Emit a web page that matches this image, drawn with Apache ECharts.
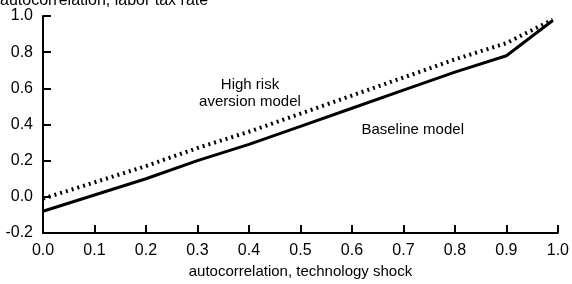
<!DOCTYPE html>
<html>
<head>
<meta charset="utf-8">
<script src="https://cdn.jsdelivr.net/npm/echarts@6/dist/echarts.min.js"></script>
<style>
  html, body { margin: 0; padding: 0; background: #fff; }
  #chart { width: 572px; height: 284px; }
</style>
</head>
<body>
<div id="chart"></div>
<script>
// autocorrelation of technology shock (x) vs labor tax rate autocorrelation (y)
const shockRho = [0.0, 0.1, 0.2, 0.3, 0.4, 0.5, 0.6, 0.7, 0.8, 0.9, 0.99]
const baseline = [-0.08, 0.01, 0.10, 0.20, 0.29, 0.39, 0.49, 0.59, 0.69, 0.78, 0.975]
const highRisk = [-0.01, 0.08, 0.17, 0.27, 0.36, 0.46, 0.56, 0.66, 0.76, 0.85, 0.98]
const xTicks = { min: 0, max: 1, step: 0.1 }
const yTicks = { min: -0.2, max: 1, step: 0.2 }

const chart = echarts.init(document.getElementById('chart'))

const pairs = ys => shockRho.map((x, i) => [x, ys[i]])
const font = 'Liberation Sans, Arial, sans-serif'

const axisCommon = {
  type: 'value',
  axisLine: { show: true, onZero: false, lineStyle: { color: '#000', width: 2 } },
  axisTick: { show: true, inside: true, length: 8, lineStyle: { color: '#000', width: 2 } },
  splitLine: { show: false },
  axisLabel: {
    color: '#000',
    fontSize: 16,
    fontFamily: font,
    formatter: v => v.toFixed(1)
  }
}

// text labels placed in data units
const noteLabel = {
  show: true,
  color: '#000',
  fontSize: 15,
  lineHeight: 17,
  align: 'center',
  verticalAlign: 'middle',
  fontFamily: font
}

chart.setOption({
  backgroundColor: '#fff',
  animation: false,
  grid: { left: 43, right: 14, top: 16, bottom: 43 },
  xAxis: {
    ...axisCommon,
    min: xTicks.min,
    max: xTicks.max,
    interval: xTicks.step,
    axisLabel: { ...axisCommon.axisLabel, margin: 10 },
    name: 'autocorrelation, technology shock',
    nameLocation: 'middle',
    nameGap: 31,
    nameTextStyle: { color: '#000', fontSize: 15, fontFamily: font }
  },
  yAxis: {
    ...axisCommon,
    min: yTicks.min,
    max: yTicks.max,
    interval: yTicks.step,
    axisLabel: { ...axisCommon.axisLabel, margin: 10 }
  },
  graphic: [
    {
      type: 'text',
      left: 0,
      top: -7,
      style: { text: 'autocorrelation, labor tax rate', fill: '#000', fontSize: 16, fontFamily: font }
    }
  ],
  series: [
    {
      name: 'Baseline model',
      type: 'line',
      data: pairs(baseline),
      symbol: 'none',
      lineStyle: { color: '#000', width: 3 },
      markPoint: {
        symbol: 'circle',
        symbolSize: 1,
        itemStyle: { color: 'rgba(0,0,0,0)' },
        data: [{ coord: [0.718, 0.368], value: 1 }],
        label: { ...noteLabel, position: 'inside', formatter: 'Baseline model' }
      }
    },
    {
      name: 'High risk aversion model',
      type: 'line',
      data: pairs(highRisk),
      symbol: 'none',
      lineStyle: { color: '#000', width: 4, type: [2, 4] },
      markPoint: {
        symbol: 'circle',
        symbolSize: 1,
        itemStyle: { color: 'rgba(0,0,0,0)' },
        data: [{ coord: [0.402, 0.573], value: 1 }],
        label: { ...noteLabel, position: 'inside', formatter: 'High risk\naversion model' }
      }
    }
  ]
})
</script>
</body>
</html>
